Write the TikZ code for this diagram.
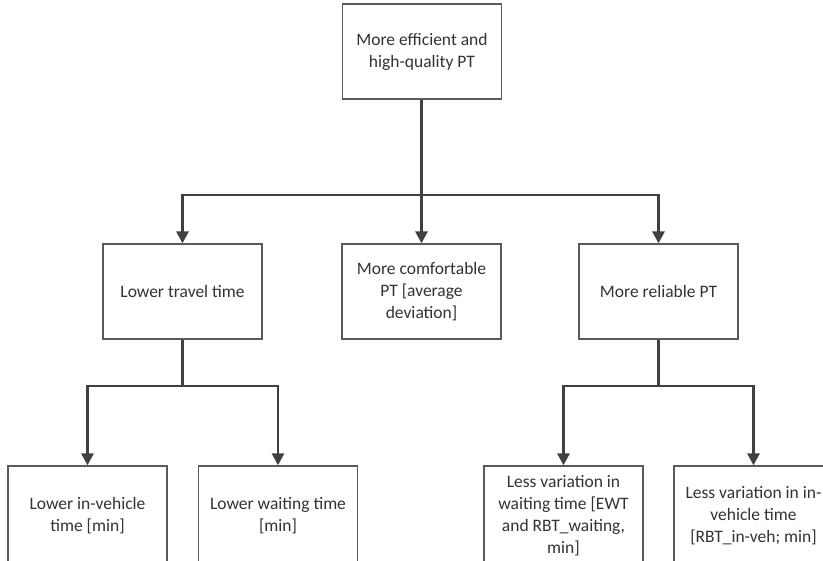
\documentclass[tikz,border=0pt]{standalone}
\usepackage{fontspec}
\setmainfont{Carlito}
\usetikzlibrary{arrows.meta}
\definecolor{boxline}{HTML}{5A5A5A}
\definecolor{connline}{HTML}{404040}
\definecolor{txt}{HTML}{333333}
\tikzset{
  box/.style={draw=boxline, line width=1.3pt, fill=white, rectangle,
    minimum width=159pt, minimum height=95pt, inner sep=2pt,
    align=center, text=txt, font=\fontsize{17.5}{22}\selectfont},
  lowbox/.style={box, minimum height=99pt},
  conn/.style={draw=connline, line width=2.8pt},
  arr/.style={conn, -{Triangle[width=12pt,length=12pt]}}
}
\begin{document}
\begin{tikzpicture}[x=1pt,y=-1pt]
\useasboundingbox (0,0) rectangle (823,561);
\clip (0,0) rectangle (823,561);
% level 1
\node[box] (top) at (422,51.5) {More efficient and\\high-quality PT};
% level 2
\node[box] (lt) at (182.5,291.5) {Lower travel time};
\node[box] (ct) at (421.5,291.5) {More comfortable\\PT [average\\deviation]};
\node[box] (rt) at (658.5,291.5) {More reliable PT};
% level 3
\node[lowbox] (a) at (87.5,515.5) {Lower in-vehicle\\time [min]};
\node[lowbox] (b) at (278,515.5) {Lower waiting time\\{}[min]};
\node[lowbox] (c) at (563.5,515.5) {Less variation in\\waiting time [EWT\\and RBT\_waiting,\\min]};
\node[lowbox] (d) at (753.5,515.5) {Less variation in in-\\vehicle time\\{}[RBT\_in-veh; min]};
% junctions
\coordinate (j1) at (421.5,195);
\coordinate (j2) at (182.5,386);
\coordinate (j3) at (658.5,386);
% connectors
\draw[conn] (top.south -| j1) -- (j1);
\draw[arr] (j1) -| (lt.north);
\draw[arr] (j1) -- (ct.north);
\draw[arr] (j1) -| (rt.north);
\draw[conn] (lt.south) -- (j2);
\draw[arr] (j2) -| (a.north);
\draw[arr] (j2) -| (b.north);
\draw[conn] (rt.south) -- (j3);
\draw[arr] (j3) -| (c.north);
\draw[arr] (j3) -| (d.north);
\end{tikzpicture}
\end{document}
